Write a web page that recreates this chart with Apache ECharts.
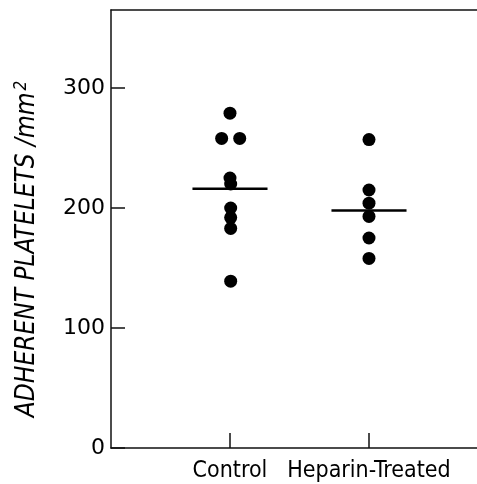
<!DOCTYPE html>
<html>
<head>
<meta charset="utf-8">
<script src="https://cdn.jsdelivr.net/npm/echarts@6/dist/echarts.min.js"></script>
<style>
  html, body { margin: 0; padding: 0; background: #fff; }
  #chart { width: 477px; height: 484px; }
</style>
</head>
<body>
<div id="chart"></div>
<script>
// data
var categories = ['Control', 'Heparin-Treated'];
var controlValues = [279, 258, 258, 225, 220, 200, 192, 183, 139];
var controlJitter = [0, -0.06, 0.07, 0, 0.005, 0.005, 0.005, 0.005, 0.005];
var heparinValues = [257, 215, 204, 193, 175, 158];
var meanValues = [216, 198];
var yTicks = [0, 100, 200, 300];
var xTicks = [1, 2];

var narrow = "'Liberation Sans Narrow', 'DejaVu Sans Condensed', 'Liberation Sans', sans-serif";

var chart = echarts.init(document.getElementById('chart'));

var controlData = controlValues.map(function (v, i) { return [1 + controlJitter[i], v]; });
var heparinData = heparinValues.map(function (v) { return [2, v]; });
var meanData = meanValues.map(function (m, i) { return [i + 1, m]; });

var axisColor = '#111';

var option = {
  animation: false,
  backgroundColor: '#fff',
  grid: { left: 111, top: 10, bottom: 36, right: 0 },
  xAxis: [{
    type: 'value',
    min: 0.144, max: 2.777,
    splitLine: { show: false },
    axisLine: { lineStyle: { color: axisColor, width: 1.5 } },
    axisTick: { customValues: xTicks, inside: true, length: 15, lineStyle: { color: axisColor, width: 1.5 } },
    axisLabel: {
      customValues: xTicks,
      formatter: function (v) { return categories[v - 1]; },
      color: '#000', fontSize: 23, fontFamily: narrow, margin: 12
    }
  }, {
    // top frame line only
    type: 'value',
    position: 'top',
    min: 0.144, max: 2.777,
    splitLine: { show: false },
    axisLine: { show: true, lineStyle: { color: axisColor, width: 1.5 } },
    axisTick: { show: false },
    axisLabel: { show: false }
  }],
  yAxis: {
    type: 'value',
    min: 0, max: 365,
    name: '{a|ADHERENT PLATELETS /mm}{s|2}',
    nameLocation: 'middle',
    nameGap: 70,
    nameTextStyle: {
      padding: [0, 40, 0, 0],
      rich: {
        a: { fontSize: 26, fontStyle: 'italic', fontFamily: narrow, color: '#000', lineHeight: 28 },
        s: { fontSize: 17, fontStyle: 'italic', fontFamily: narrow, color: '#000', verticalAlign: 'top', lineHeight: 28, padding: [0, 0, 0, 2] }
      }
    },
    splitLine: { show: false },
    axisLine: { lineStyle: { color: axisColor, width: 1.5 } },
    axisTick: { customValues: yTicks, inside: true, length: 14, lineStyle: { color: axisColor, width: 1.5 } },
    axisLabel: {
      customValues: yTicks,
      color: '#000', fontSize: 22, fontFamily: 'DejaVu Sans', margin: 6
    }
  },
  series: [
    {
      type: 'custom',
      data: meanData,
      z: 2,
      renderItem: function (params, api) {
        var x = api.value(0), y = api.value(1);
        var p1 = api.coord([x - 0.27, y]);
        var p2 = api.coord([x + 0.27, y]);
        return {
          type: 'line',
          shape: { x1: p1[0], y1: p1[1], x2: p2[0], y2: p2[1] },
          style: { stroke: '#000', lineWidth: 2.5 }
        };
      }
    },
    {
      type: 'scatter',
      data: controlData,
      symbolSize: 13,
      itemStyle: { color: '#000', opacity: 1 },
      z: 3
    },
    {
      type: 'scatter',
      data: heparinData,
      symbolSize: 13,
      itemStyle: { color: '#000', opacity: 1 },
      z: 3
    }
  ]
};

chart.setOption(option);
</script>
</body>
</html>
